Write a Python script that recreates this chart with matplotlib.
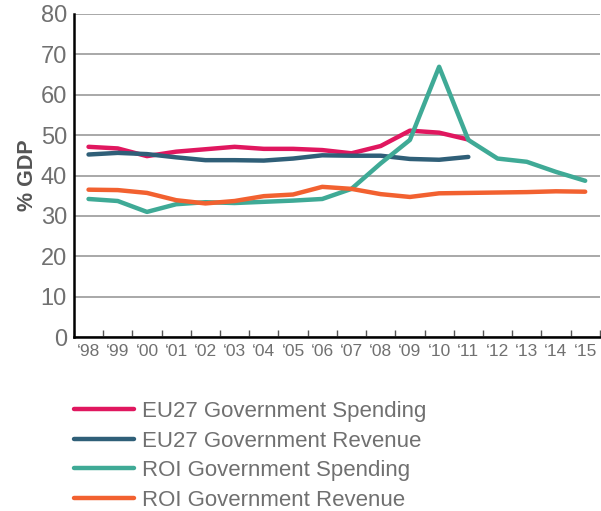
import numpy as np
import matplotlib
matplotlib.use("Agg")
import matplotlib.pyplot as plt
from matplotlib.ticker import FixedLocator

plt.rcParams['font.family'] = ['Liberation Sans', 'DejaVu Sans']

# 데이터 (% GDP)
years = ['98', '99', '00', '01', '02', '03', '04', '05', '06',
         '07', '08', '09', '10', '11', '12', '13', '14', '15']
eu_spending = [47.1, 46.7, 44.8, 45.9, 46.5, 47.1, 46.6, 46.6, 46.3,
               45.5, 47.3, 51.1, 50.6, 48.9]
eu_revenue = [45.2, 45.6, 45.3, 44.5, 43.8, 43.8, 43.7, 44.2, 45.0,
              44.9, 44.9, 44.1, 43.9, 44.6]
roi_spending = [34.2, 33.7, 31.0, 32.9, 33.4, 33.2, 33.5, 33.8, 34.2,
                36.7, 43.0, 48.8, 66.9, 48.8, 44.2, 43.4, 40.9, 38.7]
roi_revenue = [36.5, 36.4, 35.7, 33.9, 33.1, 33.7, 34.9, 35.3, 37.2,
               36.7, 35.4, 34.7, 35.6, 35.7, 35.8, 35.9, 36.1, 36.0]

series = [
    ('EU27 Government Spending', eu_spending, '#E0175F'),
    ('EU27 Government Revenue', eu_revenue, '#2F5F78'),
    ('ROI Government Spending', roi_spending, '#3FAA96'),
    ('ROI Government Revenue', roi_revenue, '#F26130'),
]

fig = plt.figure(figsize=(6.01, 5.11), dpi=100)
ax = fig.add_axes([0.123, 0.340, 0.875, 0.633])

x = np.arange(len(years))
for label, vals, color in series:
    ax.plot(x[:len(vals)], vals, color=color, lw=3.2, label=label,
            solid_capstyle='round', zorder=3)

ax.set_xlim(-0.5, len(years) - 0.5)
ax.set_ylim(0, 80)
ax.set_yticks(range(0, 81, 10))
ax.yaxis.grid(True, color='#9a9a9a', lw=1.2)
ax.set_axisbelow(True)

ax.set_xticks(x)
ax.set_xticklabels(['\u2018' + y for y in years], fontsize=12.5, color='#707070')
ax.xaxis.set_minor_locator(FixedLocator(np.arange(-0.5, len(years), 1)))
ax.tick_params(axis='x', which='major', length=0, pad=5)
ax.tick_params(axis='x', which='minor', direction='in', length=5, width=1, color='#555555')
ax.tick_params(axis='y', length=0, labelsize=17, labelcolor='#707070', pad=5)

for s in ['top', 'right']:
    ax.spines[s].set_visible(False)
ax.spines['left'].set_linewidth(1.8)
ax.spines['bottom'].set_linewidth(1.8)

ax.set_ylabel('% GDP', fontsize=15.5, fontweight='bold', color='#555555', labelpad=2)

fig.legend(loc='upper left', bbox_to_anchor=(0.09, 0.254), frameon=False,
           fontsize=16, handlelength=2.7, handletextpad=0.35, labelspacing=0.38,
           labelcolor='#707070')

fig.savefig('out.png', dpi=100)
